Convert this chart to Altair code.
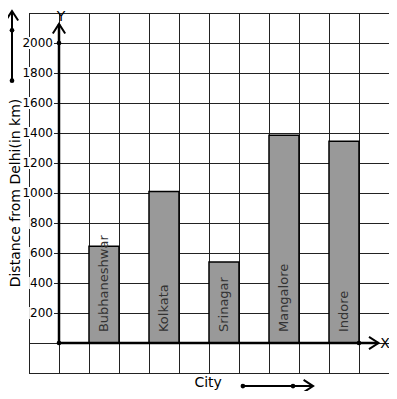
import altair as alt
import pandas as pd

# ---- data ----
cities = ["Bubhaneshwar", "Kolkata", "Srinagar", "Mangalore", "Indore"]
distances = [645, 1010, 540, 1385, 1345]
bar_start = [1, 3, 5, 7, 9]
tick_values = [200, 400, 600, 800, 1000, 1200, 1400, 1600, 1800, 2000]
grid_x = list(range(-1, 12))
grid_y = list(range(-200, 2201, 200))

bars = pd.DataFrame({
    "city": cities,
    "x0": bar_start,
    "x1": [s + 1 for s in bar_start],
    "xm": [s + 0.5 for s in bar_start],
    "d": distances,
    "base": [0] * len(cities),
    "ty": [73] * len(cities),
})
ticks = pd.DataFrame({"v": tick_values, "lab": [str(v) for v in tick_values]})
ticks["lx"] = -0.2
# white box behind each tick label (width from label length, ~7.63px per digit, 30px per unit)
ticks["bx2"] = -0.167
ticks["bx1"] = -0.2 - (ticks["lab"].str.len() * 7.63 + 1) / 30.0
ticks["by1"] = ticks["v"] - 40
ticks["by2"] = ticks["v"] + 40

# grid lines, nudged half a pixel for crisp 1px rendering
gx = pd.DataFrame({"x": [v + 0.5 / 30 for v in grid_x]})
gx["ylo"] = grid_y[0]
gx["yhi"] = grid_y[-1]
gy = pd.DataFrame({"y": [v - 0.5 * 2400 / 360 for v in grid_y]})
gy["xlo"] = grid_x[0]
gy["xhi"] = grid_x[-1]

# decorative lines (axes + small arrows), in data units
lines = pd.DataFrame({
    "x": [0, 0, -1.567, 6.13],
    "x2": [10.65, 0, -1.567, 8.47],
    "y": [0, 0, 1749, -287],
    "y2": [0, 2127, 2213, -287],
    "w": [2.5, 2.5, 2, 2],
})
heads = pd.DataFrame({
    "x": [10.65, 0, -1.567, 8.47],
    "y": [0, 2127, 2213, -287],
    "ang": [0, 270, 270, 0],
})
dots = pd.DataFrame({
    "x": [0, 0, 10, -1.567, -1.567, 6.13, 7.8],
    "y": [0, 2000, 0, 1749, 2085, -287, -287],
})
texts = pd.DataFrame({
    "x": [0.07, 10.87, 4.97, -1.3],
    "y": [2150, -33, -293, 1000],
    "t": ["Y", "X", "City", "Distance from Delhi(in km)"],
    "a": [0, 0, 0, 270],
})

xs = alt.Scale(domain=[-1, 11], nice=False, zero=False)
ys = alt.Scale(domain=[-200, 2200], nice=False, zero=False)

grid_v = alt.Chart(gx).mark_rule(color="#222222", strokeWidth=1).encode(
    x=alt.X("x:Q", scale=xs, axis=None),
    y=alt.Y("ylo:Q", scale=ys, axis=None),
    y2="yhi:Q",
)
grid_h = alt.Chart(gy).mark_rule(color="#222222", strokeWidth=1).encode(
    y=alt.Y("y:Q", scale=ys, axis=None),
    x=alt.X("xlo:Q", scale=xs, axis=None),
    x2="xhi:Q",
)

tick_box = alt.Chart(ticks).mark_rect(fill="#ffffff", opacity=1).encode(
    x=alt.X("bx1:Q", scale=xs, axis=None),
    x2="bx2:Q",
    y=alt.Y("by1:Q", scale=ys, axis=None),
    y2="by2:Q",
)

bar_layer = alt.Chart(bars).mark_bar(
    fill="#999999", stroke="#000000", strokeWidth=1.5, opacity=1
).encode(
    x=alt.X("x0:Q", scale=xs, axis=None),
    x2="x1:Q",
    y=alt.Y("d:Q", scale=ys, axis=None),
    y2="base:Q",
)

bar_text = alt.Chart(bars).mark_text(
    angle=270, align="left", baseline="middle", fontSize=13, font="DejaVu Sans", color="#333333"
).encode(
    x=alt.X("xm:Q", scale=xs, axis=None),
    y=alt.Y("ty:Q", scale=ys, axis=None),
    text="city:N",
)

tick_text = alt.Chart(ticks).mark_text(
    align="right", baseline="middle", fontSize=12, font="DejaVu Sans", color="#000000"
).encode(
    x=alt.X("lx:Q", scale=xs, axis=None),
    y=alt.Y("v:Q", scale=ys, axis=None),
    text="lab:N",
)

rule_layer = alt.Chart(lines).mark_rule(color="#000000").encode(
    x=alt.X("x:Q", scale=xs, axis=None),
    x2="x2:Q",
    y=alt.Y("y:Q", scale=ys, axis=None),
    y2="y2:Q",
    strokeWidth=alt.StrokeWidth("w:Q", scale=None),
)

head_layer = alt.Chart(heads).mark_point(
    shape="M-1,-0.65L0,0L-1,0.65", filled=False, stroke="#000000", strokeWidth=2,
    size=361, opacity=1
).encode(
    x=alt.X("x:Q", scale=xs, axis=None),
    y=alt.Y("y:Q", scale=ys, axis=None),
    angle=alt.Angle("ang:Q", scale=None),
)

dot_layer = alt.Chart(dots).mark_circle(color="#000000", size=22, opacity=1).encode(
    x=alt.X("x:Q", scale=xs, axis=None),
    y=alt.Y("y:Q", scale=ys, axis=None),
)

label_layer = alt.Chart(texts).mark_text(
    align="center", baseline="alphabetic", fontSize=14, font="DejaVu Sans", color="#000000"
).encode(
    x=alt.X("x:Q", scale=xs, axis=None),
    y=alt.Y("y:Q", scale=ys, axis=None),
    text="t:N",
    angle=alt.Angle("a:Q", scale=None),
)

chart = alt.layer(
    grid_v, grid_h, tick_box, bar_layer, bar_text, tick_text,
    rule_layer, head_layer, dot_layer, label_layer
).properties(
    width=360, height=360,
    autosize=alt.AutoSizeParams(type="none"),
    padding={"left": 21, "top": 5, "right": 0, "bottom": 18},
).configure_view(strokeWidth=0)

chart.save("out.html", embed_options={"renderer": "svg", "actions": False})
